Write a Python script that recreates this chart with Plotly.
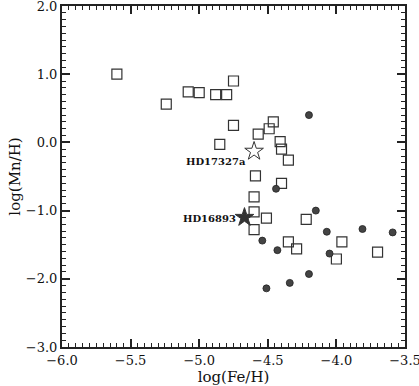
import plotly.graph_objects as go

# open squares
sq_fe = [-5.60, -5.24, -5.08, -5.00, -4.88, -4.80, -4.75, -4.75, -4.85,
         -4.46, -4.49, -4.57, -4.41, -4.40, -4.35, -4.59, -4.40, -4.60,
         -4.60, -4.51, -4.60, -4.22, -4.35, -4.29, -3.96, -4.00, -3.70]
sq_mn = [1.00, 0.56, 0.74, 0.73, 0.70, 0.70, 0.90, 0.25, -0.03,
         0.30, 0.20, 0.12, 0.01, -0.10, -0.26, -0.49, -0.60, -0.80,
         -1.02, -1.11, -1.28, -1.13, -1.46, -1.56, -1.46, -1.71, -1.61]

# filled circles
ci_fe = [-4.20, -4.44, -4.15, -4.54, -4.43, -4.07, -4.05, -3.81, -3.59,
         -4.20, -4.34, -4.51]
ci_mn = [0.40, -0.68, -1.00, -1.44, -1.58, -1.31, -1.63, -1.27, -1.32,
         -1.93, -2.06, -2.14]

# labelled stars
star_names = ["HD17327a", "HD16893"]
star_fe = [-4.60, -4.67]
star_mn = [-0.13, -1.10]
star_fill = ["white", "#333333"]

# tick labels
x_ticks = [-6.0, -5.5, -5.0, -4.5, -4.0, -3.5]
x_labels = ["\u22126.0", "\u22125.5", "\u22125.0", "\u22124.5", "\u22124.0", "\u22123.5"]
y_ticks = [-3.0, -2.0, -1.0, 0.0, 1.0, 2.0]
y_labels = ["\u22123.0", "\u22122.0", "\u22121.0", "0.0", "1.0", "2.0"]

ink = "#222222"
serif = "DejaVu Serif"

fig = go.Figure()
fig.add_trace(go.Scatter(
    x=sq_fe, y=sq_mn, mode="markers",
    marker=dict(symbol="square-open", size=10, color="#333333", line=dict(width=1.2)),
))
fig.add_trace(go.Scatter(
    x=ci_fe, y=ci_mn, mode="markers",
    marker=dict(symbol="circle", size=7, color="#444444", line=dict(width=0.8, color="#222222")),
))
fig.add_trace(go.Scatter(
    x=star_fe, y=star_mn, mode="markers",
    marker=dict(symbol="star", size=14, color=star_fill, line=dict(width=1, color="#333333")),
))

for name, fx, fy, ys in zip(star_names, star_fe, star_mn, [-10, -1]):
    fig.add_annotation(
        x=fx, y=fy, text="<b>" + name + "</b>", showarrow=False,
        xanchor="right", yanchor="middle", xshift=-6, yshift=ys,
        font=dict(family=serif, size=10, color="#111111"),
    )

fig.update_layout(
    template="none",
    width=419, height=386,
    margin=dict(l=62, r=14, t=6, b=39),
    showlegend=False,
    xaxis=dict(
        range=[-6.0, -3.5], tickmode="array", tickvals=x_ticks, ticktext=x_labels,
        ticks="inside", ticklen=8, tickwidth=2, tickcolor=ink,
        mirror="allticks", showline=True, linecolor=ink, linewidth=2, showgrid=False,
        zeroline=False,
        minor=dict(ticks="inside", dtick=0.05, ticklen=4, tickwidth=1, tickcolor=ink),
        ticklabeloverflow="allow",
        tickfont=dict(family=serif, size=13, color="#111111"),
        title=dict(text="log(Fe/H)", font=dict(family=serif, size=15, color="#111111")),
    ),
    yaxis=dict(
        range=[-3.0, 2.0], tickmode="array", tickvals=y_ticks, ticktext=y_labels,
        ticks="inside", ticklen=8, tickwidth=2, tickcolor=ink,
        mirror="allticks", showline=True, linecolor=ink, linewidth=2, showgrid=False,
        zeroline=False,
        minor=dict(ticks="inside", dtick=0.1, ticklen=4, tickwidth=1, tickcolor=ink),
        ticklabeloverflow="allow",
        tickfont=dict(family=serif, size=13, color="#111111"),
        title=dict(text="log(Mn/H)", font=dict(family=serif, size=15, color="#111111")),
    ),
)

# page body has a default margin; drop it so the figure sits at the corner
fig.write_html("out.html", config={"displayModeBar": False},
               post_script="document.body.style.margin='0';")
